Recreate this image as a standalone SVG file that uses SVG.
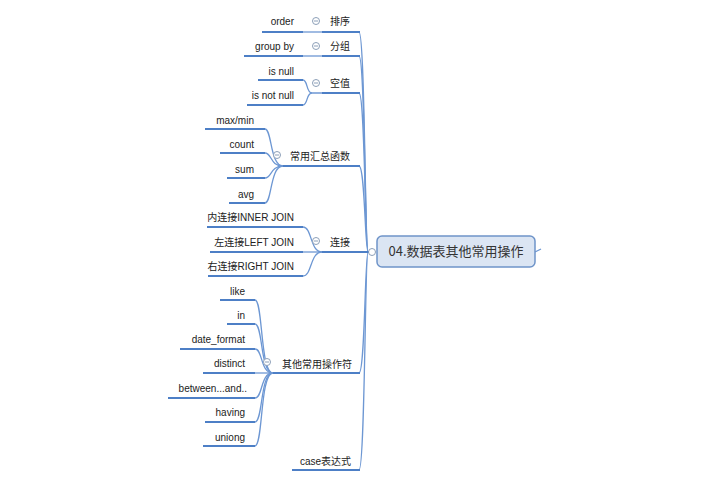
<svg xmlns="http://www.w3.org/2000/svg" width="720" height="495" viewBox="0 0 720 495">
<style>
text{font-family:"Liberation Sans","Noto Sans CJK SC",sans-serif;font-size:10px;fill:#222}
.r{text-anchor:end}
.ul{stroke:#4d7fc6;stroke-width:2;fill:none}
.cn{stroke:#6d97d3;stroke-width:1.3;fill:none}
.cc{fill:#fff;stroke:#8c9fb8;stroke-width:1}
.cm{stroke:#8c9fb8;stroke-width:1}
.main{fill:#dbe5f3;stroke:#6f94c9;stroke-width:1.5}
.mt{font-family:"Noto Sans CJK SC","Liberation Sans",sans-serif;font-size:13px;fill:#333}
</style>
<rect width="720" height="495" fill="#fff"/>
<g id="connectors">
<path class="cn" d="M368 252 C365 252,365 32,359 32"/>
<path class="cn" d="M368 252 C365 252,365 56,359 56"/>
<path class="cn" d="M368 252 C365 252,365 93,359 93"/>
<path class="cn" d="M368 252 C365 252,365 166,359 166"/>
<path class="cn" d="M368 252 C365 252,365 373,359 373"/>
<path class="cn" d="M368 252 C365 252,365 470,359 470"/>
<path class="cn" d="M303 32 L322 32"/>
<path class="cn" d="M303 56 L322 56"/>
<path class="cn" d="M322 93 L312 93 C306 93,308 80,303 80"/>
<path class="cn" d="M312 93 C306 93,308 105,303 105"/>
<path class="cn" d="M283 166 C270 166,272 129,265 129"/>
<path class="cn" d="M283 166 C270 166,272 153,265 153"/>
<path class="cn" d="M283 166 C270 166,272 178,265 178"/>
<path class="cn" d="M283 166 C270 166,272 203,265 203"/>
<path class="cn" d="M322 252 C310 252,312 227,303 227"/>
<path class="cn" d="M322 252 L303 252"/>
<path class="cn" d="M322 252 C310 252,312 276,303 276"/>
<path class="cn" d="M273 373 C260 373,263 300,255 300"/>
<path class="cn" d="M273 373 C260 373,263 324,255 324"/>
<path class="cn" d="M273 373 C260 373,263 349,255 349"/>
<path class="cn" d="M273 373 L255 373"/>
<path class="cn" d="M273 373 C260 373,263 398,255 398"/>
<path class="cn" d="M273 373 C260 373,263 422,255 422"/>
<path class="cn" d="M273 373 C260 373,263 446,255 446"/>
<path class="cn" d="M535 252 L541 249"/>
</g>
<g id="root">
<rect class="main" x="377" y="236" width="158" height="31" rx="5"/>
<text class="mt" x="456" y="256" text-anchor="middle">04.数据表其他常用操作</text>
<circle class="cc" cx="372" cy="252" r="3.5"/>
<line class="ul" x1="358" y1="252" x2="368.5" y2="252"/>
</g>
<g id="n-paixu">
<line class="ul" x1="322" y1="32" x2="360" y2="32"/>
<text x="330" y="25">排序</text>
<circle class="cc" cx="316" cy="21" r="3.5"/><line class="cm" x1="314" y1="21" x2="318" y2="21"/>
</g>
<g id="n-order"><line class="ul" x1="262" y1="32" x2="303" y2="32"/><text class="r" x="294" y="25">order</text></g>
<g id="n-fenzu">
<line class="ul" x1="322" y1="56" x2="360" y2="56"/>
<text x="330" y="50">分组</text>
<circle class="cc" cx="316" cy="46" r="3.5"/><line class="cm" x1="314" y1="46" x2="318" y2="46"/>
</g>
<g id="n-groupby"><line class="ul" x1="244" y1="56" x2="303" y2="56"/><text class="r" x="294" y="50">group by</text></g>
<g id="n-kongzhi">
<line class="ul" x1="322" y1="93" x2="360" y2="93"/>
<text x="330" y="87">空值</text>
<circle class="cc" cx="316" cy="83" r="3.5"/><line class="cm" x1="314" y1="83" x2="318" y2="83"/>
</g>
<g id="n-isnull"><line class="ul" x1="258" y1="80" x2="303" y2="80"/><text class="r" x="294" y="75">is null</text></g>
<g id="n-isnotnull"><line class="ul" x1="247" y1="105" x2="303" y2="105"/><text class="r" x="294" y="99">is not null</text></g>
<g id="n-huizong">
<line class="ul" x1="283" y1="166" x2="360" y2="166"/>
<text x="290" y="160">常用汇总函数</text>
<circle class="cc" cx="277" cy="155" r="3.5"/><line class="cm" x1="275" y1="155" x2="279" y2="155"/>
</g>
<g id="n-maxmin"><line class="ul" x1="205" y1="129" x2="265" y2="129"/><text class="r" x="254" y="124">max/min</text></g>
<g id="n-count"><line class="ul" x1="220" y1="153" x2="265" y2="153"/><text class="r" x="254" y="148">count</text></g>
<g id="n-sum"><line class="ul" x1="227" y1="178" x2="265" y2="178"/><text class="r" x="254" y="173">sum</text></g>
<g id="n-avg"><line class="ul" x1="229" y1="203" x2="265" y2="203"/><text class="r" x="254" y="198">avg</text></g>
<g id="n-lianjie">
<line class="ul" x1="322" y1="252" x2="360" y2="252"/>
<text x="330" y="246">连接</text>
<circle class="cc" cx="316" cy="241" r="3.5"/><line class="cm" x1="314" y1="241" x2="318" y2="241"/>
</g>
<g id="n-inner"><line class="ul" x1="207" y1="227" x2="303" y2="227"/><text class="r" x="294" y="221">内连接INNER JOIN</text></g>
<g id="n-left"><line class="ul" x1="210" y1="252" x2="303" y2="252"/><text class="r" x="294" y="246">左连接LEFT JOIN</text></g>
<g id="n-right"><line class="ul" x1="208" y1="276" x2="303" y2="276"/><text class="r" x="294" y="270">右连接RIGHT JOIN</text></g>
<g id="n-qita">
<line class="ul" x1="273" y1="373" x2="360" y2="373"/>
<text x="282" y="368">其他常用操作符</text>
<circle class="cc" cx="267" cy="362" r="3.5"/><line class="cm" x1="265" y1="362" x2="269" y2="362"/>
</g>
<g id="n-like"><line class="ul" x1="220" y1="300" x2="255" y2="300"/><text class="r" x="245" y="295">like</text></g>
<g id="n-in"><line class="ul" x1="227" y1="324" x2="255" y2="324"/><text class="r" x="245" y="319">in</text></g>
<g id="n-dateformat"><line class="ul" x1="180" y1="349" x2="255" y2="349"/><text class="r" x="245" y="343">date_format</text></g>
<g id="n-distinct"><line class="ul" x1="203" y1="373" x2="255" y2="373"/><text class="r" x="245" y="367">distinct</text></g>
<g id="n-between"><line class="ul" x1="168" y1="398" x2="255" y2="398"/><text class="r" x="247" y="392">between...and..</text></g>
<g id="n-having"><line class="ul" x1="205" y1="422" x2="255" y2="422"/><text class="r" x="245" y="416">having</text></g>
<g id="n-uniong"><line class="ul" x1="203" y1="446" x2="255" y2="446"/><text class="r" x="245" y="441">uniong</text></g>
<g id="n-case"><line class="ul" x1="292" y1="470" x2="360" y2="470"/><text x="300" y="465">case表达式</text></g>
</svg>
